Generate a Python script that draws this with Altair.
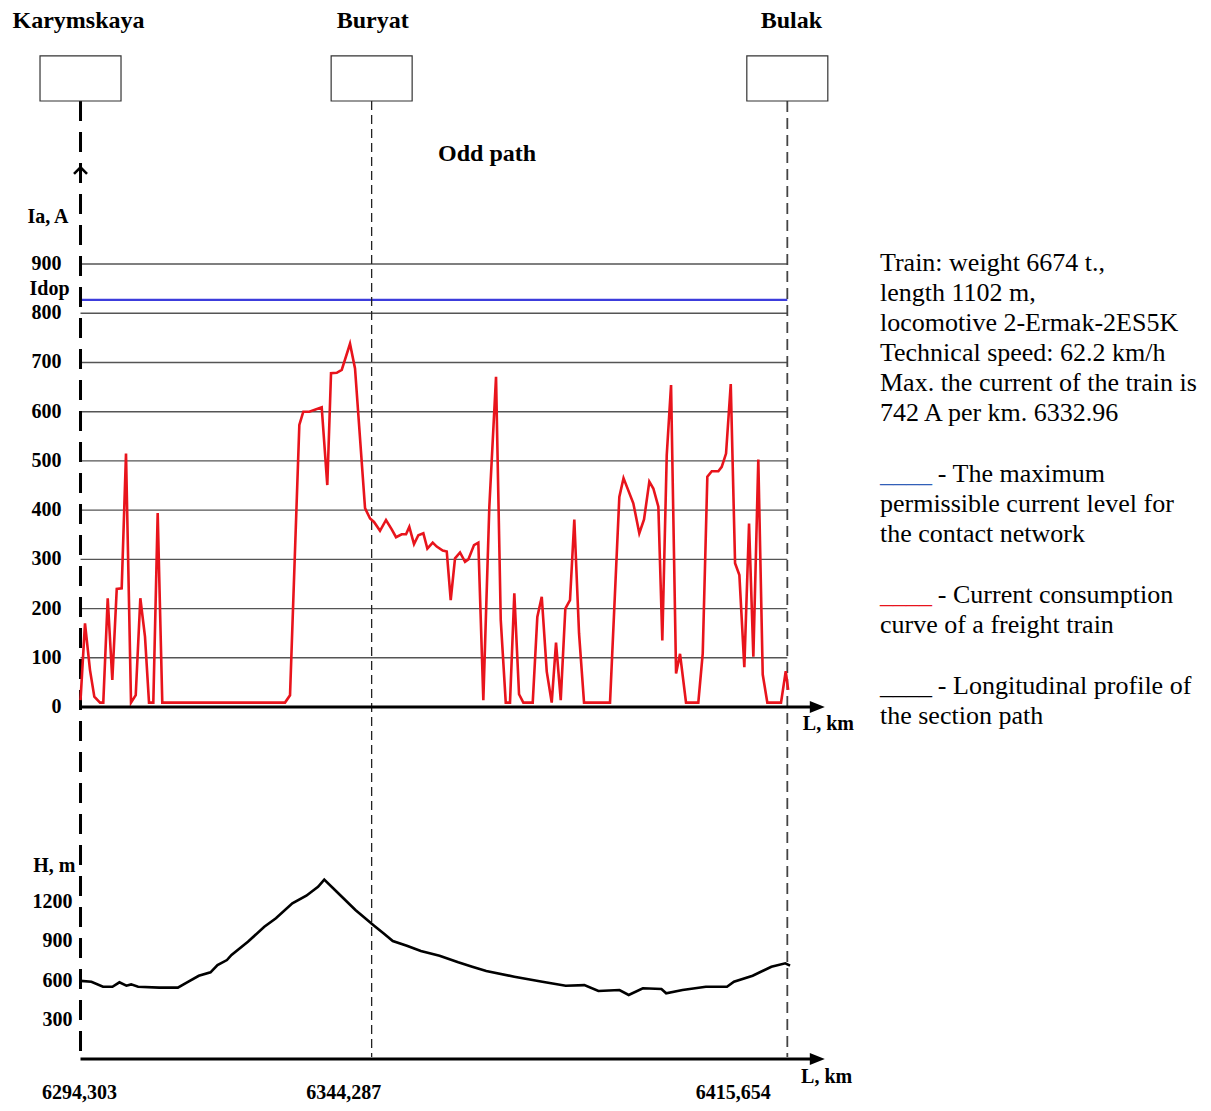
import altair as alt
import pandas as pd

# ---------------- data ----------------
station_names = ["Karymskaya", "Buryat", "Bulak"]
station_km = [0.0, 49.984, 121.351]          # distance from Karymskaya, km
station_labels = ["6294,303", "6344,287", "6415,654"]

# current consumption curve of the freight train (distance km, current A)
dist_km = [0.0, 0.77, 1.63, 2.37, 3.35, 3.91, 4.67, 5.46, 6.22, 7.07, 7.81, 8.67, 9.48,
           10.27, 11.07, 11.76, 12.50, 13.25, 14.04, 35.11, 35.97, 37.57, 38.25, 39.28,
           41.41, 42.37, 43.01, 43.99, 44.85, 46.27, 47.13, 48.85, 49.71, 50.39, 51.42,
           52.45, 53.43, 54.17, 55.15, 55.89, 56.45, 57.26, 58.00, 58.86, 59.55, 60.47,
           61.16, 62.19, 62.88, 63.56, 64.30, 65.16, 66.02, 66.59, 67.56, 68.30, 69.16,
           70.19, 71.34, 72.15, 73.01, 73.74, 74.48, 75.29, 76.03, 77.64, 78.43, 79.19,
           80.05, 80.90, 81.64, 82.45, 83.24, 84.04, 84.78, 85.59, 86.45, 90.91, 92.51,
           93.23, 94.91, 95.94, 96.75, 97.66, 98.35, 99.21, 99.89, 100.65, 101.39, 102.25,
           102.93, 103.96, 106.07, 106.83, 107.62, 108.38, 109.51, 110.09, 110.83, 111.64,
           112.38, 113.12, 113.97, 114.78, 115.52, 116.37, 117.13, 117.92, 120.27, 121.08,
           121.50]
current_a = [14, 170, 75, 21, 9, 9, 221, 55, 240, 241, 515, 9, 24,
             221, 143, 9, 9, 394, 9, 9, 24, 573, 600, 600,
             609, 451, 678, 679, 685, 738, 688, 404, 383, 376, 358,
             380, 361, 345, 351, 351, 366, 331, 349, 353, 322, 334,
             326, 318, 316, 217, 302, 314, 295, 300, 329, 334, 14,
             407, 671, 177, 9, 9, 231, 26, 9, 9, 183, 224,
             72, 9, 131, 14, 200, 217, 381, 150, 9, 9, 427,
             465, 414, 353, 381, 458, 444, 407, 135, 512, 654, 68,
             108, 9, 9, 109, 468, 479, 479, 488, 515, 656,
             292, 268, 81, 373, 102, 503, 66, 9, 9, 73,
             35]

# longitudinal profile (distance km, height m)
prof_km = [0.0, 1.87, 3.86, 5.48, 6.68, 7.88, 8.69, 9.89, 13.50, 16.71, 18.30, 20.31,
           22.32, 23.52, 25.14, 25.93, 28.74, 31.56, 33.55, 36.37, 38.77, 40.78, 41.85,
           43.99, 47.20, 50.41, 52.01, 53.62, 56.03, 58.43, 61.64, 64.85, 67.25, 69.66,
           74.48, 79.29, 83.31, 86.50, 88.92, 92.53, 94.12, 96.55, 99.74, 100.55, 103.36,
           107.36, 110.99, 112.19, 115.40, 118.61, 121.01, 121.82]
height_m = [598, 591, 553, 553, 587, 561, 571, 553, 546, 546, 587, 637,
            663, 719, 757, 796, 897, 1012, 1077, 1191, 1249, 1318, 1372,
            1280, 1140, 1020, 962, 903, 867, 826, 790, 740, 706, 673,
            630, 591, 561, 565, 520, 528, 490, 541, 536, 503, 528,
            553, 553, 591, 637, 706, 732, 714]

grid_levels = [100, 200, 300, 400, 500, 600, 700, 800, 900]
current_ticks = [0, 100, 200, 300, 400, 500, 600, 700, 800, 900]
idop_a = 827
height_ticks = [300, 600, 900, 1200]

info_lines = ["Train: weight 6674 t.,", "length 1102 m,", "locomotive 2-Ermak-2ES5K",
              "Technical speed: 62.2 km/h", "Max. the current of the train is",
              "742 A per km. 6332.96"]
legend_texts = [["- The maximum", "permissible current level for", "the contact network"],
                ["- Current consumption", "curve of a freight train"],
                ["- Longitudinal profile of", "the section path"]]
legend_colors = ["#3060b8", "#e8141c", "#000000"]

# ---------------- scales ----------------
XS = alt.Scale(domain=[-12.45, 192.72], nice=False, zero=False)
YA = alt.Scale(domain=[-804.5, 1420.2], nice=False, zero=False)     # current, A
YH = alt.Scale(domain=[-336.6, 8041.3], nice=False, zero=False)     # height, m

SERIF = "Liberation Serif"


def X(f="x"):
    return alt.X(f, type="quantitative", scale=XS, axis=None)


def YAq(f="y"):
    return alt.Y(f, type="quantitative", scale=YA, axis=None)


def YHq(f="y"):
    return alt.Y(f, type="quantitative", scale=YH, axis=None)


layers = []

# gridlines
grid_df = pd.DataFrame({"y": grid_levels, "x": station_km[0], "x2": station_km[2]})
layers.append(alt.Chart(grid_df).mark_rule(color="#555555", strokeWidth=1.4).encode(
    x=X(), x2="x2:Q", y=YAq()))

# Idop line
layers.append(alt.Chart(pd.DataFrame({"y": [idop_a], "x": [station_km[0]], "x2": [station_km[2]]}))
              .mark_rule(color="#3c3cdc", strokeWidth=2.2).encode(x=X(), x2="x2:Q", y=YAq()))

# station dashed lines
sl = pd.DataFrame({"x": station_km, "y": [1231] * 3, "y2": [-711] * 3, "n": station_names})
layers.append(alt.Chart(sl.iloc[[0]]).mark_rule(color="black", strokeWidth=3, strokeDash=[20, 11])
              .encode(x=X(), y=YAq(), y2="y2:Q"))
layers.append(alt.Chart(sl.iloc[[1]]).mark_rule(color="#222222", strokeWidth=1.3, strokeDash=[9, 5])
              .encode(x=X(), y=YAq(), y2="y2:Q"))
layers.append(alt.Chart(sl.iloc[[2]]).mark_rule(color="#444444", strokeWidth=1.8, strokeDash=[11, 6])
              .encode(x=X(), y=YAq(), y2="y2:Q"))

# current curve
cur_df = pd.DataFrame({"x": dist_km, "y": current_a})
layers.append(alt.Chart(cur_df).mark_line(color="#e8141c", strokeWidth=2.6).encode(
    x=X(), y=YAq(), order=alt.Order("x:Q")))

# upper x axis + arrow
layers.append(alt.Chart(pd.DataFrame({"x": [0.0], "x2": [125.6], "y": [0]}))
              .mark_rule(color="black", strokeWidth=3).encode(x=X(), x2="x2:Q", y=YAq()))
layers.append(alt.Chart(pd.DataFrame({"x": [126.5], "y": [0]}))
              .mark_point(shape="M-1,-0.8L1,0L-1,0.8Z", size=225, filled=True, color="black", opacity=1)
              .encode(x=X(), y=YAq()))
# y axis chevron arrow
layers.append(alt.Chart(pd.DataFrame({"x": [0.0], "y": [1091]}))
              .mark_point(shape="M-1,0.6L0,-0.4L1,0.6", size=170, filled=False, color="black",
                          strokeWidth=2.6, opacity=1)
              .encode(x=X(), y=YAq()))

# profile curve (height scale)
prof_df = pd.DataFrame({"x": prof_km, "y": height_m})
layers.append(alt.Chart(prof_df).mark_line(color="black", strokeWidth=2.6).encode(
    x=X(), y=YHq(), order=alt.Order("x:Q")))
layers.append(alt.Chart(pd.DataFrame({"x": [0.0], "x2": [125.6], "y": [0]}))
              .mark_rule(color="black", strokeWidth=3).encode(x=X(), x2="x2:Q", y=YHq()))
layers.append(alt.Chart(pd.DataFrame({"x": [126.5], "y": [0]}))
              .mark_point(shape="M-1,-0.8L1,0L-1,0.8Z", size=225, filled=True, color="black", opacity=1)
              .encode(x=X(), y=YHq()))

# station boxes
box_df = pd.DataFrame({"x": station_km, "y": [1277] * 3})
layers.append(alt.Chart(box_df).mark_point(shape="M-1,-0.556H1V0.556H-1Z", size=6561, filled=True,
                                           fill="white", stroke="#333333", strokeWidth=1.2, opacity=1)
              .encode(x=X(), y=YAq()))

# station names
for name, km, dx in zip(station_names, station_km, [-2, 1, 4]):
    layers.append(alt.Chart(pd.DataFrame({"x": [km], "y": [1394], "t": [name]}))
                  .mark_text(font=SERIF, fontWeight="bold", fontSize=24, align="center",
                             baseline="middle", dx=dx, color="black")
                  .encode(x=X(), y=YAq(), text="t:N"))

# Odd path
layers.append(alt.Chart(pd.DataFrame({"x": [69.8], "y": [1123], "t": ["Odd path"]}))
              .mark_text(font=SERIF, fontWeight="bold", fontSize=24, align="center",
                         baseline="middle", color="black")
              .encode(x=X(), y=YAq(), text="t:N"))

# current tick labels
ct_df = pd.DataFrame({"x": [station_km[0]] * len(current_ticks), "y": current_ticks,
                      "t": [str(v) for v in current_ticks]})
layers.append(alt.Chart(ct_df).mark_text(font=SERIF, fontWeight="bold", fontSize=20, align="right",
                                         baseline="middle", dx=-19, color="black")
              .encode(x=X(), y=YAq(), text="t:N"))
layers.append(alt.Chart(pd.DataFrame({"x": [0.0], "y": [849], "t": ["Idop"]}))
              .mark_text(font=SERIF, fontWeight="bold", fontSize=20, align="right",
                         baseline="middle", dx=-11, color="black")
              .encode(x=X(), y=YAq(), text="t:N"))
layers.append(alt.Chart(pd.DataFrame({"x": [0.0], "y": [995], "t": ["Ia, A"]}))
              .mark_text(font=SERIF, fontWeight="bold", fontSize=20, align="right",
                         baseline="middle", dx=-12, color="black")
              .encode(x=X(), y=YAq(), text="t:N"))
layers.append(alt.Chart(pd.DataFrame({"x": [128.4], "y": [-35], "t": ["L, km"]}))
              .mark_text(font=SERIF, fontWeight="bold", fontSize=20, align="center",
                         baseline="middle", color="black")
              .encode(x=X(), y=YAq(), text="t:N"))

# height tick labels
ht_df = pd.DataFrame({"x": [station_km[0]] * len(height_ticks), "y": height_ticks,
                      "t": [str(v) for v in height_ticks]})
layers.append(alt.Chart(ht_df).mark_text(font=SERIF, fontWeight="bold", fontSize=20, align="right",
                                         baseline="middle", dx=-8, color="black")
              .encode(x=X(), y=YHq(), text="t:N"))
layers.append(alt.Chart(pd.DataFrame({"x": [0.0], "y": [1477], "t": ["H, m"]}))
              .mark_text(font=SERIF, fontWeight="bold", fontSize=20, align="right",
                         baseline="middle", dx=-5, color="black")
              .encode(x=X(), y=YHq(), text="t:N"))
layers.append(alt.Chart(pd.DataFrame({"x": [128.1], "y": [-138], "t": ["L, km"]}))
              .mark_text(font=SERIF, fontWeight="bold", fontSize=20, align="center",
                         baseline="middle", color="black")
              .encode(x=X(), y=YHq(), text="t:N"))

# km labels below
for lab, km, dx in zip(station_labels, station_km, [-1, -28, -54]):
    layers.append(alt.Chart(pd.DataFrame({"x": [km], "y": [-262], "t": [lab]}))
                  .mark_text(font=SERIF, fontWeight="bold", fontSize=20, align="center",
                             baseline="middle", dx=dx, color="black")
                  .encode(x=X(), y=YHq(), text="t:N"))

# info / legend text (right side)
LEG_X = 137.26
LINE_A = 60.95
info_df = pd.DataFrame({"x": [LEG_X] * len(info_lines),
                        "y": [902 - i * LINE_A for i in range(len(info_lines))],
                        "t": info_lines})
layers.append(alt.Chart(info_df).mark_text(font=SERIF, fontSize=26, align="left", baseline="middle",
                                           color="black")
              .encode(x=X(), y=YAq(), text="t:N"))

legend_tops = [473, 228, 43]
for lines, col, top in zip(legend_texts, legend_colors, legend_tops):
    layers.append(alt.Chart(pd.DataFrame({"x": [LEG_X], "y": [top], "t": ["____"]}))
                  .mark_text(font=SERIF, fontSize=26, align="left", baseline="middle", color=col)
                  .encode(x=X(), y=YAq(), text="t:N"))
    xs = [147.2] + [LEG_X] * (len(lines) - 1)
    ldf = pd.DataFrame({"x": xs, "y": [top - i * LINE_A for i in range(len(lines))], "t": lines})
    layers.append(alt.Chart(ldf).mark_text(font=SERIF, fontSize=26, align="left", baseline="middle",
                                           color="black")
                  .encode(x=X(), y=YAq(), text="t:N"))

chart = (alt.layer(*layers)
         .resolve_scale(y="independent")
         .properties(width=1195, height=1095, padding=0,
                     autosize=alt.AutoSizeParams(type="none"))
         .configure_view(stroke=None))

chart.save("out.html", embed_options={"renderer": "svg", "actions": False})
